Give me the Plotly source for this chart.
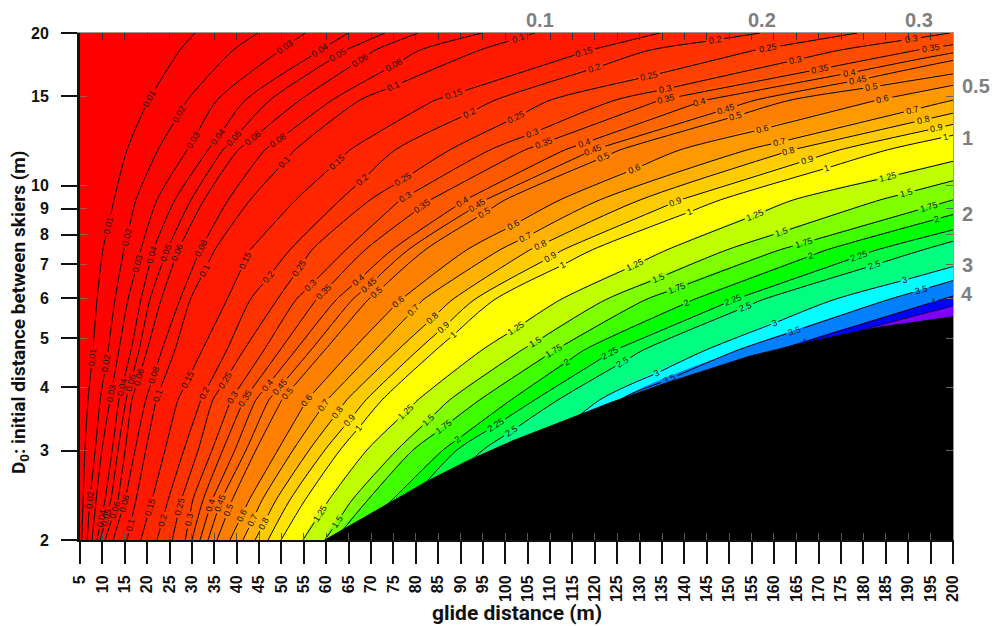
import colorsys
import math
import numpy as np
import plotly.graph_objects as go

# D0 values at which each contour's glide distance was read
d0_rows = [2, 2.4, 3.01, 3.78, 4.74, 5.95, 7.47, 9.37, 11.76, 14.74, 18.5, 20]

# glide distance of each contour at the D0 rows
c_0p01 = [5.4, 5.7, 6.1, 6.8, 7.9, 8.8, 10.1, 12.6, 15.5, 20.2, 27.3, 30.7]
c_0p02 = [6.6, 7.2, 8.4, 9.5, 11.3, 12.8, 14.8, 17.5, 22.4, 28.9, 39.2, 44.8]
c_0p03 = [7.7, 8.6, 9.9, 11.7, 13.7, 15.7, 18.6, 22.2, 28.9, 35.6, 49.7, 55.3]
c_0p04 = [8.8, 10.6, 12.2, 13.7, 16.4, 18.6, 21.3, 26.2, 33.6, 41.9, 58.6, 64.9]
c_0p05 = [9.5, 11.9, 13.5, 15.3, 18.2, 20.6, 24.4, 29.8, 36.9, 47.4, 64.2, 73.1]
c_0p06 = [10.6, 13.5, 15.1, 16.6, 20.0, 23.1, 26.9, 32.7, 40.3, 54.1, 70.9, 80.5]
c_0p08 = [12.4, 15.1, 17.3, 19.7, 23.3, 27.3, 31.8, 38.1, 46.3, 61.3, 80.9, 94.8]
c_0p1 = [15.5, 17.5, 19.7, 22.0, 26.2, 29.6, 35.1, 43.0, 53.0, 67.5, 94.3, 106.6]
c_0p15 = [18.6, 21.1, 24.0, 26.9, 32.3, 37.8, 43.0, 53.2, 65.3, 84.3, 118.9, 134.5]
c_0p2 = [22.2, 24.7, 28.2, 32.0, 37.8, 43.0, 51.9, 63.1, 75.4, 97.7, 132.3, 156.9]
c_0p25 = [25.6, 27.6, 31.4, 34.7, 41.6, 49.0, 56.8, 69.8, 87.6, 110.0, 155.8, 178.6]
c_0p3 = [28.5, 30.2, 34.5, 38.7, 46.1, 53.2, 64.4, 76.5, 96.6, 124.5, 174.7, 199.3]
c_0p35 = [30.0, 32.5, 36.9, 41.6, 49.7, 57.7, 68.7, 83.2, 104.4, 134.5, 192.0, 217.2]
c_0p4 = [31.8, 34.5, 39.6, 44.3, 53.2, 62.2, 74.7, 91.0, 113.3, 144.6, 203.8, 240.0]
c_0p45 = [33.6, 36.5, 42.1, 47.2, 56.6, 65.8, 78.3, 95.5, 119.6, 155.8, 212.7, 250.0]
c_0p5 = [35.6, 39.0, 44.3, 50.1, 59.7, 69.3, 82.1, 99.9, 125.6, 163.6, 232.8]
c_0p6 = [38.5, 42.8, 49.2, 55.7, 65.8, 76.5, 91.4, 112.2, 139.0, 183.0, 240.0]
c_0p7 = [41.4, 45.7, 52.6, 60.2, 70.9, 81.6, 98.8, 121.1, 154.0, 200.0, 255.0]
c_0p8 = [44.1, 48.8, 56.2, 64.6, 76.0, 88.1, 105.5, 130.1, 164.0, 212.7]
c_0p9 = [47.0, 51.9, 59.7, 68.9, 80.5, 93.0, 112.9, 139.0, 174.7, 223.9]
c_1 = [49.9, 55.3, 63.1, 72.5, 84.5, 97.5, 119.4, 148.0, 185.3, 235.1]
c_1p25 = [54.8, 60.6, 69.1, 80.5, 94.8, 112.2, 136.1, 164.3, 210.5]
c_1p5 = [59.7, 65.8, 75.8, 87.6, 103.7, 122.3, 149.5, 183.7, 226.1]
c_1p75 = [61.9, 69.3, 79.4, 94.3, 111.1, 131.2, 161.3, 200.0, 244.0]
c_2 = [65.3, 74.7, 86.1, 101.3, 117.6, 141.9, 171.8, 211.6]
c_2p25 = [69.8, 78.7, 89.2, 106.6, 124.5, 150.9, 183.0, 226.1]
c_2p5 = [73.1, 83.2, 95.0, 111.8, 130.8, 157.3, 193.3, 232.8]
c_3 = [83.2, 94.3, 107.7, 121.1, 144.8, 173.2, 213.4]
c_3p5 = [92.1, 103.3, 114.4, 125.6, 152.0, 185.3, 223.4]
c_4 = [103.3, 114.4, 125.6, 134.5, 161.0, 197.1, 232.8]
c_4p5 = [121.1, 132.3, 143.5, 156.9, 168.0, 204.9, 244.0]

levels = [0.01, 0.02, 0.03, 0.04, 0.05, 0.06, 0.08, 0.1, 0.15, 0.2, 0.25, 0.3, 0.35, 0.4, 0.45,
          0.5, 0.6, 0.7, 0.8, 0.9, 1, 1.25, 1.5, 1.75, 2, 2.25, 2.5, 3, 3.5, 4, 4.5]
crossings = [c_0p01, c_0p02, c_0p03, c_0p04, c_0p05, c_0p06, c_0p08, c_0p1, c_0p15, c_0p2, c_0p25,
             c_0p3, c_0p35, c_0p4, c_0p45, c_0p5, c_0p6, c_0p7, c_0p8, c_0p9, c_1, c_1p25, c_1p5,
             c_1p75, c_2, c_2p25, c_2p5, c_3, c_3p5, c_4, c_4p5]

# edge of the excluded (black) region
limit_x = [59.7, 74.2, 82.5, 91.4, 101.7, 112.9, 123.4, 135.2, 145.0, 154.6, 167.4, 183.7, 200]
limit_y = [2, 2.37, 2.61, 2.86, 3.14, 3.43, 3.73, 4.06, 4.33, 4.61, 4.91, 5.26, 5.51]

x_ticks = list(range(5, 201, 5))
y_ticks = [2, 3, 4, 5, 6, 7, 8, 9, 10, 15, 20]
top_labels = ["0.1", "0.2", "0.3"]
right_labels = ["0.5", "1", "2", "3", "4"]

# ---- layout constants (pixels in the 992x626 page) ----
L, R, T, B = 80, 953, 33, 540
XMIN, XMAX = 5, 200
DECADE = B - T


def y_from_px(py):
    return 2 * 10 ** ((B - py) / DECADE)


# where on each contour the inline labels sit (page row of each label)
label_rows = {
    0.01: [98, 225, 357], 0.02: [114, 237, 363, 500], 0.03: [47, 140, 263, 393],
    0.04: [50, 137, 255, 387, 518], 0.05: [55, 138, 253, 383, 517], 0.06: [60, 138, 252, 377, 510],
    0.08: [65, 140, 248, 375, 503], 0.1: [38, 86, 162, 270, 395, 525],
    0.15: [52, 94, 162, 260, 380, 507], 0.2: [40, 68, 113, 180, 277, 393, 520],
    0.25: [48, 76, 117, 179, 268, 380, 507], 0.3: [39, 60, 89, 133, 197, 285, 397, 520],
    0.35: [48, 69, 99, 143, 206, 292, 398], 0.4: [73, 102, 143, 202, 280, 385, 505],
    0.45: [80, 109, 150, 205, 285, 387, 503], 0.5: [87, 116, 157, 213, 292, 393, 510],
    0.6: [99, 129, 169, 225, 302, 400, 515], 0.7: [110, 142, 237, 310, 405, 520],
    0.8: [120, 151, 245, 318, 412, 523], 0.9: [128, 160, 202, 257, 327, 420],
    1: [137, 168, 212, 265, 335, 428], 1.25: [177, 215, 265, 328, 412, 513],
    1.5: [193, 232, 278, 342, 420, 522], 1.75: [207, 243, 288, 351, 427], 2: [219, 256, 303, 362, 439],
    2.25: [256, 300, 353, 425], 2.5: [265, 307, 362, 431], 3: [280, 323, 373],
    3.5: [290, 331, 379], 4: [302, 342],
}


def band_colour(level):
    r, g, b = colorsys.hsv_to_rgb((60 * level % 360) / 360, 1, 1)
    return f"rgb({round(r * 255)},{round(g * 255)},{round(b * 255)})"


fig = go.Figure()
annotations = []
FONT = "Liberation Sans, Arial, sans-serif"
line_traces = []

for level, cross in zip(levels, crossings):
    rows = d0_rows[:len(cross)]
    xs = [cross[0]] + list(cross)
    ys = [1.6] + list(rows)
    if rows[-1] == 20:
        xs += [cross[-1] + (cross[-1] - cross[-2]) * 1.5, 500]
        ys += [24, 40]
    else:
        # carry the edge on past the frame so the fill closes out of sight
        y_next = rows[-1] ** 2 / rows[-2]
        xs += [cross[-1] + (cross[-1] - cross[-2]), 500]
        ys += [y_next, y_next * 1.2]
    xs += [500, cross[0]]
    ys += [1.6, 1.6]
    fig.add_trace(go.Scatter(
        x=xs, y=ys, mode="lines", fill="toself", fillcolor=band_colour(level),
        line=dict(color=band_colour(level), width=0, shape="spline", smoothing=0.8),
        hoverinfo="skip", showlegend=False, name=str(level),
    ))
    log_rows = np.log10(rows)
    gaps = []
    for py in label_rows.get(level, []):
        lx = float(np.interp(math.log10(y_from_px(py)), log_rows, cross))
        if lx < XMIN or lx > XMAX:
            continue
        x_a = float(np.interp(math.log10(y_from_px(py + 8)), log_rows, cross))
        x_b = float(np.interp(math.log10(y_from_px(py - 8)), log_rows, cross))
        dx = (x_b - x_a) * (R - L) / (XMAX - XMIN)
        angle = -math.degrees(math.atan2(16, dx))
        text = str(level)
        half = (len(text) * 4.8 + 3) / 2
        dpy = half * abs(math.sin(math.radians(angle)))
        gaps.append((math.log10(y_from_px(py + dpy)), math.log10(y_from_px(py - dpy))))
        annotations.append(dict(
            x=lx, y=math.log10(y_from_px(py)), xref="x", yref="y", text=text, showarrow=False,
            textangle=angle, font=dict(family=FONT, size=9, color="#111111"),
            borderpad=0, xanchor="center", yanchor="middle",
        ))
    # contour line, broken where its labels sit
    gaps.sort()
    lx_pts, ly_pts = [], []
    start = log_rows[0]
    for low, high in gaps + [(log_rows[-1], None)]:
        seg = [start] + [r for r in log_rows if start < r < low] + [low]
        lx_pts += [float(np.interp(s, log_rows, cross)) for s in seg] + [None]
        ly_pts += [10 ** s for s in seg] + [None]
        start = high
    line_traces.append(go.Scatter(
        x=lx_pts, y=ly_pts, mode="lines",
        line=dict(color="#000000", width=1 if level != 4.5 else 0.7, shape="spline", smoothing=0.8),
        hoverinfo="skip", showlegend=False, name=f"{level} line",
    ))

for trace in line_traces:
    fig.add_trace(trace)

# excluded region
fig.add_trace(go.Scatter(
    x=limit_x + [200, limit_x[0]], y=limit_y + [2, 2], mode="lines", fill="toself",
    fillcolor="#000000", line=dict(color="#000000", width=1),
    hoverinfo="skip", showlegend=False,
))
# carriers for the inner-tick overlay axes
fig.add_trace(go.Scatter(x=[XMIN], y=[2], xaxis="x2", yaxis="y2", mode="markers",
                         marker=dict(opacity=0), hoverinfo="skip", showlegend=False))
fig.add_trace(go.Scatter(x=[XMIN], y=[2], xaxis="x3", yaxis="y3", mode="markers",
                         marker=dict(opacity=0), hoverinfo="skip", showlegend=False))

# grey labels outside the frame
GREY = "#7f7f7f"
for text, px in zip(top_labels, [540, 762, 919]):
    annotations.append(dict(x=(px - L) / (R - L), y=(B - 20) / DECADE, xref="paper", yref="paper", text=f"<b>{text}</b>",
                            showarrow=False, font=dict(family=FONT, size=20, color=GREY), xanchor="center", yanchor="middle"))
for text, px, py in zip(right_labels, [976, 967, 967, 967, 967], [86, 138, 214, 265, 294]):
    annotations.append(dict(x=(px - L) / (R - L), y=(B - py) / DECADE, xref="paper", yref="paper", text=f"<b>{text}</b>",
                            showarrow=False, font=dict(family=FONT, size=20, color=GREY), xanchor="center", yanchor="middle"))

# axis titles
annotations.append(dict(x=(517 - L) / (R - L), y=(B - 613) / DECADE, xref="paper", yref="paper",
                        text="<b>glide distance (m)</b>", showarrow=False,
                        font=dict(family="Roboto, sans-serif", size=21, color="#111111"),
                        xanchor="center", yanchor="middle"))
annotations.append(dict(x=(20 - L) / (R - L), y=(B - 313) / DECADE, xref="paper", yref="paper",
                        text="<b>D<sub>0</sub>: initial distance between skiers (m)</b>", showarrow=False, textangle=-90,
                        font=dict(family="Roboto, sans-serif", size=19, color="#111111"),
                        xanchor="center", yanchor="middle"))

tickfont = dict(family=FONT, size=16, color="#111111", weight="bold")
yrange = [math.log10(2), math.log10(20)]
fig.update_layout(
    width=992, height=626, autosize=False,
    margin=dict(l=L, r=992 - R, t=T, b=626 - B),
    paper_bgcolor="#ffffff", plot_bgcolor="#ff0000", showlegend=False,
    annotations=annotations,
    xaxis=dict(range=[XMIN, XMAX], tickmode="array", tickvals=x_ticks, ticktext=[str(v) for v in x_ticks],
               tickangle=-90, ticks="outside", ticklen=22, tickwidth=2, tickcolor="#111111", showgrid=False,
               zeroline=False, showline=True, linecolor="#111111", linewidth=2, tickfont=tickfont,
               ticklabelstandoff=5, automargin=False),
    yaxis=dict(type="log", range=yrange, tickmode="array", tickvals=y_ticks, ticktext=[str(v) for v in y_ticks],
               ticks="outside", ticklen=16, tickwidth=2, tickcolor="#111111", showgrid=False, zeroline=False,
               showline=True, linecolor="#111111", linewidth=3, tickfont=tickfont, ticklabelstandoff=9,
               automargin=False),
    xaxis2=dict(overlaying="x", anchor="y", side="top", range=[XMIN, XMAX], tickmode="array", tickvals=x_ticks,
                ticks="inside", ticklen=7, tickwidth=1, tickcolor="#333333", showticklabels=False, showgrid=False,
                zeroline=False, showline=True, linecolor="#999999", linewidth=1),
    yaxis2=dict(overlaying="y", anchor="x", side="right", type="log", range=yrange, tickmode="array", tickvals=y_ticks,
                ticks="inside", ticklen=7, tickwidth=1, tickcolor="#666666", showticklabels=False, showgrid=False,
                zeroline=False, showline=True, linecolor="#999999", linewidth=1),
    xaxis3=dict(overlaying="x", anchor="y", side="bottom", range=[XMIN, XMAX], tickmode="array", tickvals=x_ticks,
                ticks="inside", ticklen=7, tickwidth=1, tickcolor="#555555", showticklabels=False, showgrid=False,
                zeroline=False, showline=False),
    yaxis3=dict(overlaying="y", anchor="x", side="left", type="log", range=yrange, tickmode="array", tickvals=y_ticks,
                ticks="inside", ticklen=7, tickwidth=1, tickcolor="#aa5555", showticklabels=False, showgrid=False,
                zeroline=False, showline=False),
)

fig.write_html("out.html", post_script="document.body.style.margin='0';", config={"displayModeBar": False})
